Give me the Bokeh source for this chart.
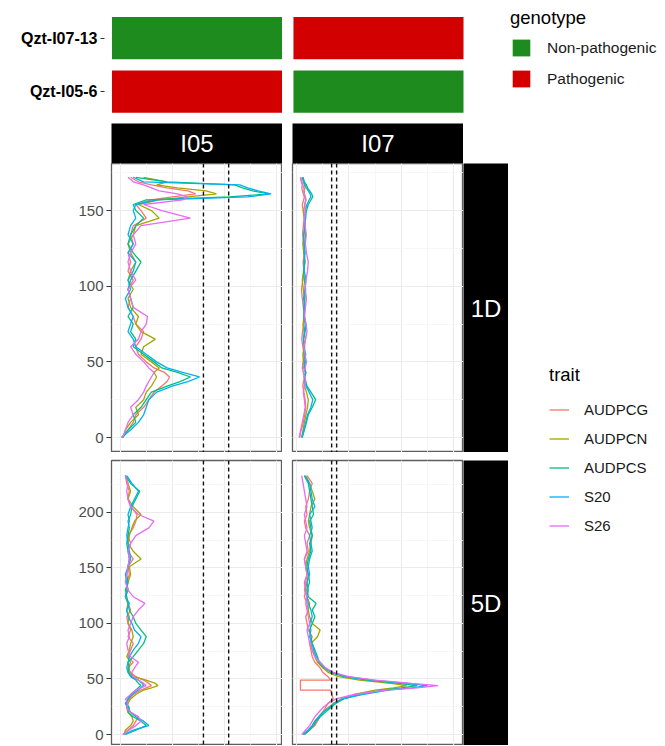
from bokeh.plotting import figure
from bokeh.models import (Range1d, FactorRange, SingleIntervalTicker, FixedTicker, Grid, Span,
                          Legend, LegendItem, Spacer)
from bokeh.layouts import row, column
from bokeh.embed import file_html
from bokeh.resources import INLINE
from bokeh.core.properties import value

# ---------------- data ----------------
populations = ["I05", "I07"]
chromosomes = ["1D", "5D"]
traits = ["AUDPCG", "AUDPCN", "AUDPCS", "S20", "S26"]
trait_colors = ["#F8766D", "#A3A500", "#00BF7D", "#00B0F6", "#E76BF3"]

qtl_markers = ["Qzt-I05-6", "Qzt-I07-13"]          # bottom -> top
genotype_I05 = ["Pathogenic", "Non-pathogenic"]
genotype_I07 = ["Non-pathogenic", "Pathogenic"]
genotype_levels = ["Non-pathogenic", "Pathogenic"]
genotype_colors = ["#1E8B1E", "#D30000"]

threshold_I05 = [3.2, 4.17]
threshold_I07 = [1.34, 1.53]

pos_1D = [0, 5, 10, 15, 20, 25, 30, 34, 37, 40, 43, 46, 50, 55, 60, 65, 70, 75, 80, 86,
          92, 98, 104, 110, 116, 122, 128, 134, 140, 145, 150, 154, 157, 159, 161, 163, 165, 167, 169, 172]

I05_1D_AUDPCG = [0.05, 0.3, 0.5, 0.6, 0.9, 1.1, 1.3, 1.6, 1.8, 1.9, 1.7, 1.3, 1.0, 0.7, 0.6, 0.8, 0.9, 0.6, 0.5, 0.3,
                 0.4, 0.3, 0.5, 0.3, 0.4, 0.3, 0.5, 0.4, 0.5, 1.0, 0.8, 0.6, 1.2, 2.0, 2.9, 2.6, 1.8, 1.2, 0.7, 0.4]
I05_1D_AUDPCN = [0.1, 0.2, 0.4, 0.7, 0.6, 0.9, 1.0, 1.2, 1.3, 1.4, 1.3, 1.5, 1.2, 0.8, 0.9, 1.35, 0.8, 0.6, 0.7, 0.4,
                 0.3, 0.5, 0.3, 0.4, 0.6, 0.4, 0.3, 0.5, 0.6, 1.5, 1.2, 0.7, 1.5, 2.6, 3.7, 3.3, 2.2, 1.4, 1.8, 0.9]
I05_1D_AUDPCS = [0.1, 0.3, 0.6, 0.5, 0.8, 1.0, 1.2, 1.8, 2.3, 2.7, 2.2, 1.6, 1.3, 0.9, 0.5, 0.6, 0.4, 0.5, 0.3, 0.5,
                 0.4, 0.3, 0.4, 0.6, 0.8, 0.5, 0.3, 0.4, 0.6, 0.9, 0.6, 0.5, 1.0, 4.2, 5.7, 5.1, 4.7, 4.4, 1.8, 0.6]
I05_1D_S20 = [0.05, 0.4, 0.7, 0.9, 1.0, 1.1, 1.4, 2.0, 2.6, 3.05, 2.4, 1.8, 1.4, 1.0, 0.6, 0.5, 0.3, 0.4, 0.5, 0.3,
              0.2, 0.4, 0.3, 0.5, 0.6, 0.3, 0.5, 0.3, 0.4, 0.6, 0.5, 0.6, 1.4, 4.9, 5.8, 5.3, 4.9, 4.6, 0.9, 0.5]
I05_1D_S26 = [0.1, 0.2, 0.3, 0.5, 0.4, 0.7, 0.9, 1.0, 1.1, 1.2, 1.3, 1.1, 0.9, 0.6, 0.4, 0.7, 0.8, 1.0, 1.05, 0.5,
              0.4, 0.3, 0.6, 0.4, 0.3, 0.4, 0.6, 0.5, 0.8, 2.7, 1.6, 0.9, 2.4, 2.6, 2.2, 1.5, 1.2, 0.9, 0.5, 0.3]

I07_1D_AUDPCG = [0.12, 0.18, 0.26, 0.31, 0.35, 0.33, 0.28, 0.24, 0.27, 0.3, 0.26, 0.22, 0.25, 0.29, 0.24, 0.2, 0.23, 0.27, 0.31, 0.26,
                 0.22, 0.19, 0.24, 0.28, 0.25, 0.3, 0.27, 0.23, 0.26, 0.29, 0.25, 0.22, 0.27, 0.3, 0.26, 0.23, 0.2, 0.22, 0.18, 0.15]
I07_1D_AUDPCN = [0.2, 0.25, 0.3, 0.36, 0.42, 0.45, 0.38, 0.3, 0.33, 0.29, 0.35, 0.31, 0.27, 0.24, 0.3, 0.34, 0.29, 0.25, 0.28, 0.33,
                 0.3, 0.26, 0.22, 0.27, 0.31, 0.28, 0.24, 0.29, 0.33, 0.3, 0.27, 0.32, 0.36, 0.34, 0.3, 0.28, 0.33, 0.3, 0.26, 0.22]
I07_1D_AUDPCS = [0.22, 0.3, 0.38, 0.45, 0.6, 0.73, 0.55, 0.4, 0.35, 0.32, 0.36, 0.3, 0.34, 0.29, 0.31, 0.27, 0.33, 0.36, 0.3, 0.28,
                 0.32, 0.35, 0.3, 0.27, 0.33, 0.29, 0.31, 0.35, 0.3, 0.34, 0.38, 0.45, 0.55, 0.62, 0.58, 0.5, 0.42, 0.38, 0.3, 0.25]
I07_1D_S20 = [0.2, 0.28, 0.35, 0.42, 0.55, 0.62, 0.48, 0.36, 0.32, 0.3, 0.34, 0.28, 0.31, 0.35, 0.29, 0.26, 0.3, 0.33, 0.28, 0.31,
              0.27, 0.32, 0.36, 0.3, 0.28, 0.33, 0.29, 0.27, 0.31, 0.35, 0.33, 0.4, 0.48, 0.55, 0.52, 0.45, 0.38, 0.33, 0.28, 0.22]
I07_1D_S26 = [0.1, 0.16, 0.22, 0.28, 0.33, 0.3, 0.26, 0.3, 0.35, 0.31, 0.27, 0.33, 0.38, 0.32, 0.28, 0.35, 0.4, 0.36, 0.31, 0.34,
              0.38, 0.33, 0.36, 0.42, 0.45, 0.38, 0.34, 0.37, 0.33, 0.3, 0.34, 0.31, 0.35, 0.32, 0.28, 0.31, 0.27, 0.24, 0.2, 0.17]

pos_5D = [0, 4, 8, 12, 16, 20, 24, 28, 32, 36, 40, 40, 42, 44, 46, 49, 49, 52, 56, 60,
          65, 70, 76, 82, 88, 94, 100, 106, 112, 118, 124, 130, 137, 144, 151, 158, 165, 172, 179, 186,
          192, 198, 205, 212, 219, 226, 233]

I05_5D_AUDPCG = [0.1, 0.3, 0.5, 0.6, 0.7, 0.4, 0.3, 0.2, 0.35, 0.5, 0.8, 0.8, 1.0, 1.2, 1.1, 0.9, 0.9, 0.6, 0.4, 0.3,
                 0.5, 0.3, 0.4, 0.5, 0.3, 0.4, 0.3, 0.25, 0.4, 0.3, 0.2, 0.3, 0.25, 0.35, 0.3, 0.5, 0.3, 0.4, 0.3, 0.5,
                 0.6, 0.65, 0.4, 0.3, 0.35, 0.25, 0.2]
I05_5D_AUDPCN = [0.15, 0.2, 0.4, 0.5, 0.45, 0.3, 0.25, 0.3, 0.4, 0.6, 0.9, 0.9, 1.2, 1.45, 1.35, 1.0, 1.0, 0.5, 0.35, 0.3,
                 0.4, 0.25, 0.35, 0.4, 0.5, 0.45, 0.3, 0.35, 0.25, 0.3, 0.2, 0.25, 0.3, 0.4, 0.35, 0.8, 0.5, 0.3, 0.35, 0.45,
                 0.55, 0.8, 0.5, 0.3, 0.4, 0.3, 0.2]
I05_5D_AUDPCS = [0.2, 0.6, 1.0, 0.8, 0.5, 0.3, 0.35, 0.25, 0.3, 0.4, 0.6, 0.6, 0.7, 0.8, 0.7, 0.6, 0.6, 0.4, 0.3, 0.35,
                 0.3, 0.5, 0.7, 0.9, 1.0, 0.8, 0.6, 0.5, 0.35, 0.3, 0.25, 0.2, 0.3, 0.25, 0.3, 0.35, 0.3, 0.25, 0.3, 0.35,
                 0.3, 0.4, 0.45, 0.6, 0.75, 0.4, 0.2]
I05_5D_S20 = [0.15, 0.5, 1.1, 0.9, 0.6, 0.4, 0.3, 0.2, 0.3, 0.45, 0.7, 0.7, 0.8, 0.9, 0.85, 0.7, 0.7, 0.45, 0.3, 0.25,
              0.3, 0.35, 0.5, 0.7, 0.8, 0.55, 0.45, 0.3, 0.25, 0.35, 0.2, 0.3, 0.25, 0.2, 0.3, 0.4, 0.35, 0.3, 0.25, 0.3,
              0.35, 0.3, 0.4, 0.55, 0.7, 0.45, 0.25]
I05_5D_S26 = [0.1, 0.35, 0.6, 0.8, 0.7, 0.4, 0.25, 0.3, 0.2, 0.4, 0.6, 0.6, 0.8, 1.0, 0.9, 0.7, 0.7, 0.5, 0.45, 0.55,
              0.7, 0.4, 0.3, 0.25, 0.35, 0.3, 0.4, 0.5, 0.7, 0.95, 0.5, 0.3, 0.2, 0.25, 0.3, 0.35, 0.3, 0.4, 0.6, 1.1,
              1.3, 0.7, 0.4, 0.3, 0.25, 0.3, 0.2]

I07_5D_AUDPCG = [0.3, 0.5, 0.7, 0.8, 0.9, 1.0, 1.1, 1.2, 1.4, 1.35, 1.3, 0.15, 0.15, 0.15, 0.15, 0.15, 1.3, 1.2, 1.0, 0.9,
                 0.7, 0.6, 0.55, 0.5, 0.6, 0.45, 0.4, 0.35, 0.45, 0.4, 0.3, 0.35, 0.3, 0.4, 0.35, 0.3, 0.45, 0.4, 0.5, 0.35,
                 0.3, 0.4, 0.35, 0.45, 0.5, 0.6, 0.4]
I07_5D_AUDPCN = [0.25, 0.45, 0.6, 0.7, 0.85, 1.0, 1.2, 1.4, 1.7, 2.2, 3.0, 3.0, 3.7, 4.2, 3.6, 2.4, 2.4, 1.6, 1.2, 1.0,
                 0.8, 0.7, 0.6, 0.55, 0.8, 0.9, 0.6, 0.5, 0.45, 0.5, 0.4, 0.35, 0.4, 0.45, 0.35, 0.4, 0.5, 0.55, 0.6, 0.5,
                 0.45, 0.5, 0.55, 0.7, 0.6, 0.5, 0.35]
I07_5D_AUDPCS = [0.3, 0.5, 0.65, 0.75, 0.9, 1.1, 1.3, 1.5, 1.8, 2.4, 3.3, 3.3, 4.0, 4.6, 3.9, 2.7, 2.7, 1.8, 1.3, 1.05,
                 0.85, 0.8, 0.7, 0.6, 0.55, 0.5, 0.6, 0.7, 0.6, 0.75, 0.45, 0.4, 0.5, 0.45, 0.4, 0.45, 0.55, 0.5, 0.6, 0.55,
                 0.5, 0.65, 0.6, 0.55, 0.5, 0.45, 0.3]
I07_5D_S20 = [0.25, 0.45, 0.6, 0.7, 0.85, 1.0, 1.25, 1.45, 1.75, 2.5, 3.5, 3.5, 4.4, 5.0, 4.2, 2.9, 2.9, 1.9, 1.35, 1.1,
              0.9, 0.75, 0.65, 0.6, 0.5, 0.55, 0.5, 0.6, 0.55, 0.45, 0.4, 0.45, 0.4, 0.5, 0.45, 0.5, 0.6, 0.55, 0.5, 0.6,
              0.55, 0.5, 0.7, 0.6, 0.55, 0.5, 0.3]
I07_5D_S26 = [0.2, 0.35, 0.5, 0.6, 0.7, 0.85, 1.0, 1.2, 1.5, 2.2, 3.4, 3.4, 4.6, 5.4, 4.4, 3.0, 3.0, 2.0, 1.4, 1.1,
              0.9, 0.7, 0.6, 0.5, 0.45, 0.4, 0.5, 0.45, 0.4, 0.35, 0.4, 0.3, 0.35, 0.4, 0.35, 0.3, 0.4, 0.35, 0.3, 0.4,
              0.35, 0.3, 0.4, 0.35, 0.3, 0.25, 0.2]

positions = {"1D": pos_1D, "5D": pos_5D}
lod = {
    ("I05", "1D"): [I05_1D_AUDPCG, I05_1D_AUDPCN, I05_1D_AUDPCS, I05_1D_S20, I05_1D_S26],
    ("I07", "1D"): [I07_1D_AUDPCG, I07_1D_AUDPCN, I07_1D_AUDPCS, I07_1D_S20, I07_1D_S26],
    ("I05", "5D"): [I05_5D_AUDPCG, I05_5D_AUDPCN, I05_5D_AUDPCS, I05_5D_S20, I05_5D_S26],
    ("I07", "5D"): [I07_5D_AUDPCG, I07_5D_AUDPCN, I07_5D_AUDPCS, I07_5D_S20, I07_5D_S26],
}
thresholds = {"I05": threshold_I05, "I07": threshold_I07}
genotypes = {"I05": genotype_I05, "I07": genotype_I07}

# ---------------- style ----------------
FONT = "Liberation Sans"
xlims = {"I05": (-0.335, 6.24), "I07": (-0.153, 6.37)}
ylims = {"1D": (-9.9, 181.1), "5D": (-9.9, 246.6)}
GRID_MAJOR = "#EBEBEB"
GRID_MINOR = "#F3F3F3"
BORDER = "#5E5E5E"


def base_fig(width, height, left=0, right=0, top=0, bottom=0, **kw):
    p = figure(width=width, height=height, output_backend="svg", toolbar_location=None,
               min_border_left=left, min_border_right=right, min_border_top=top,
               min_border_bottom=bottom, **kw)
    p.background_fill_color = "white"
    p.border_fill_color = "white"
    p.grid.visible = False
    return p


# ---------------- heatmap ----------------
heat = base_fig(470, 118, left=104, x_range=Range1d(-0.5096, 1.507), y_range=Range1d(-0.5, 1.57),
                x_axis_location=None, y_axis_location="left")
heat.outline_line_color = None
hx, hy, hc = [], [], []
for i, pop in enumerate(populations):
    for j, m in enumerate(qtl_markers):
        hx.append(i)
        hy.append(j)
        hc.append(genotype_colors[genotype_levels.index(genotypes[pop][j])])
heat.rect(x=hx, y=hy, width=0.937, height=0.79, fill_color=hc, line_color=None)
ya = heat.yaxis[0]
ya.ticker = FixedTicker(ticks=list(range(len(qtl_markers))))
ya.major_label_overrides = {j: m for j, m in enumerate(qtl_markers)}
ya.axis_line_color = None
ya.major_tick_out = 4
ya.major_tick_in = 0
ya.major_tick_line_color = "#333333"
ya.minor_tick_line_color = None
ya.major_label_standoff = 3
ya.major_label_text_font = FONT
ya.major_label_text_font_size = "16px"
ya.major_label_text_font_style = "bold"
ya.major_label_text_color = "black"

# genotype legend (proxy glyphs sit outside the visible range)
geno = base_fig(194, 118, left=40, top=7, x_range=Range1d(0, 1), y_range=Range1d(0, 1),
                x_axis_location=None, y_axis_location=None)
geno.outline_line_color = None
g_items = []
for lvl, col in zip(genotype_levels, genotype_colors):
    r = geno.rect(x=[-5], y=[-5], width=1, height=1, fill_color=col, line_color=None)
    g_items.append(LegendItem(label=lvl, renderers=[r]))
gleg = Legend(items=g_items, location="top_left", margin=0, padding=0, title="genotype",
              title_text_font=FONT, title_text_font_size="18.5px", title_text_font_style="normal",
              title_text_color="black", title_standoff=8,
              label_text_font=FONT, label_text_font_size="15.5px", label_text_color="#1A1A1A",
              glyph_width=22, glyph_height=21, label_height=21, label_standoff=15, spacing=10,
              background_fill_alpha=0, border_line_color=None)
geno.add_layout(gleg)


# ---------------- strips ----------------
def col_strip(pop, width, left):
    s = base_fig(width, 40, left=left, x_range=FactorRange(factors=[pop]), y_range=Range1d(-1, 1),
                 x_axis_location=None, y_axis_location=None)
    s.background_fill_color = "black"
    s.outline_line_color = None
    s.text(x=[pop], y=[0], text=[pop], text_color="white", text_font=value(FONT),
           text_font_size="24px", text_align="center", text_baseline="middle")
    return s


def row_strip(chrom, height, top, bottom):
    s = base_fig(45, height, top=top, bottom=bottom, x_range=Range1d(-1, 1),
                 y_range=FactorRange(factors=[chrom]), x_axis_location=None, y_axis_location=None)
    s.background_fill_color = "black"
    s.outline_line_color = None
    s.text(x=[0], y=[chrom], text=[chrom], text_color="white", text_font=value(FONT),
           text_font_size="24px", text_align="center", text_baseline="middle")
    return s


# ---------------- panels ----------------
def panel(pop, chrom, width, height, left, top, bottom, with_axis):
    p = base_fig(width, height, left=left, top=top, bottom=bottom,
                 x_range=Range1d(*xlims[pop]), y_range=Range1d(*ylims[chrom]),
                 x_axis_location=None, y_axis_location="left" if with_axis else None)
    p.outline_line_color = BORDER
    p.outline_line_width = 1.3
    yt = SingleIntervalTicker(interval=50, num_minor_ticks=2)
    xt = SingleIntervalTicker(interval=2, num_minor_ticks=2)
    if with_axis:
        ax = p.yaxis[0]
        ax.ticker = yt
        ax.axis_line_color = None
        ax.major_tick_out = 5
        ax.major_tick_in = 0
        ax.major_tick_line_color = "#333333"
        ax.minor_tick_line_color = None
        ax.major_label_standoff = 3
        ax.major_label_text_font = FONT
        ax.major_label_text_font_size = "15px"
        ax.major_label_text_color = "#4D4D4D"
    yg = Grid(dimension=1, ticker=yt)
    xg = Grid(dimension=0, ticker=xt)
    for g in (xg, yg):
        g.grid_line_color = GRID_MAJOR
        g.grid_line_width = 1.1
        g.minor_grid_line_color = GRID_MINOR
        g.minor_grid_line_width = 0.7
        p.add_layout(g)
    for t in thresholds[pop]:
        p.add_layout(Span(location=t, dimension="height", line_color="#111111",
                          line_dash="4 3", line_width=1.4))
    for k, trait in enumerate(traits):
        p.line(x=lod[(pop, chrom)][k], y=positions[chrom], line_color=trait_colors[k],
               line_width=1.3)
    return p


p05_1 = panel("I05", "1D", 282, 289, 111, 0, 0, True)
p07_1 = panel("I07", "1D", 181, 289, 10, 0, 0, False)
s1 = row_strip("1D", 289, 0, 0)
p05_5 = panel("I05", "5D", 282, 293, 111, 8, 0, True)
p07_5 = panel("I07", "5D", 181, 293, 10, 8, 0, False)
s5 = row_strip("5D", 293, 8, 0)

st05 = col_strip("I05", 282, 111)
st07 = col_strip("I07", 181, 10)

# trait legend (proxy glyphs sit outside the visible range)
tleg_fig = base_fig(156, 627, left=41, top=246, x_range=Range1d(0, 1), y_range=Range1d(0, 1),
                    x_axis_location=None, y_axis_location=None)
tleg_fig.outline_line_color = None
t_items = []
for trait, col in zip(traits, trait_colors):
    r = tleg_fig.line(x=[-5, -4], y=[-5, -5], line_color=col, line_width=1.3)
    t_items.append(LegendItem(label=trait, renderers=[r]))
tleg = Legend(items=t_items, location="top_left", margin=0, padding=0, title="trait",
              title_text_font=FONT, title_text_font_size="18.5px", title_text_font_style="normal",
              title_text_color="black", title_standoff=15,
              label_text_font=FONT, label_text_font_size="15px", label_text_color="#1A1A1A",
              glyph_width=20, glyph_height=17, label_height=17, label_standoff=15, spacing=12,
              background_fill_alpha=0, border_line_color=None)
tleg_fig.add_layout(tleg)

left_block = column(
    Spacer(width=463, height=5),
    row(st05, st07),
    row(p05_1, p07_1, s1),
    row(p05_5, p07_5, s5),
)
layout = column(
    row(heat, geno),
    row(left_block, tleg_fig),
)

open("out.html", "w").write(file_html(layout, INLINE))
